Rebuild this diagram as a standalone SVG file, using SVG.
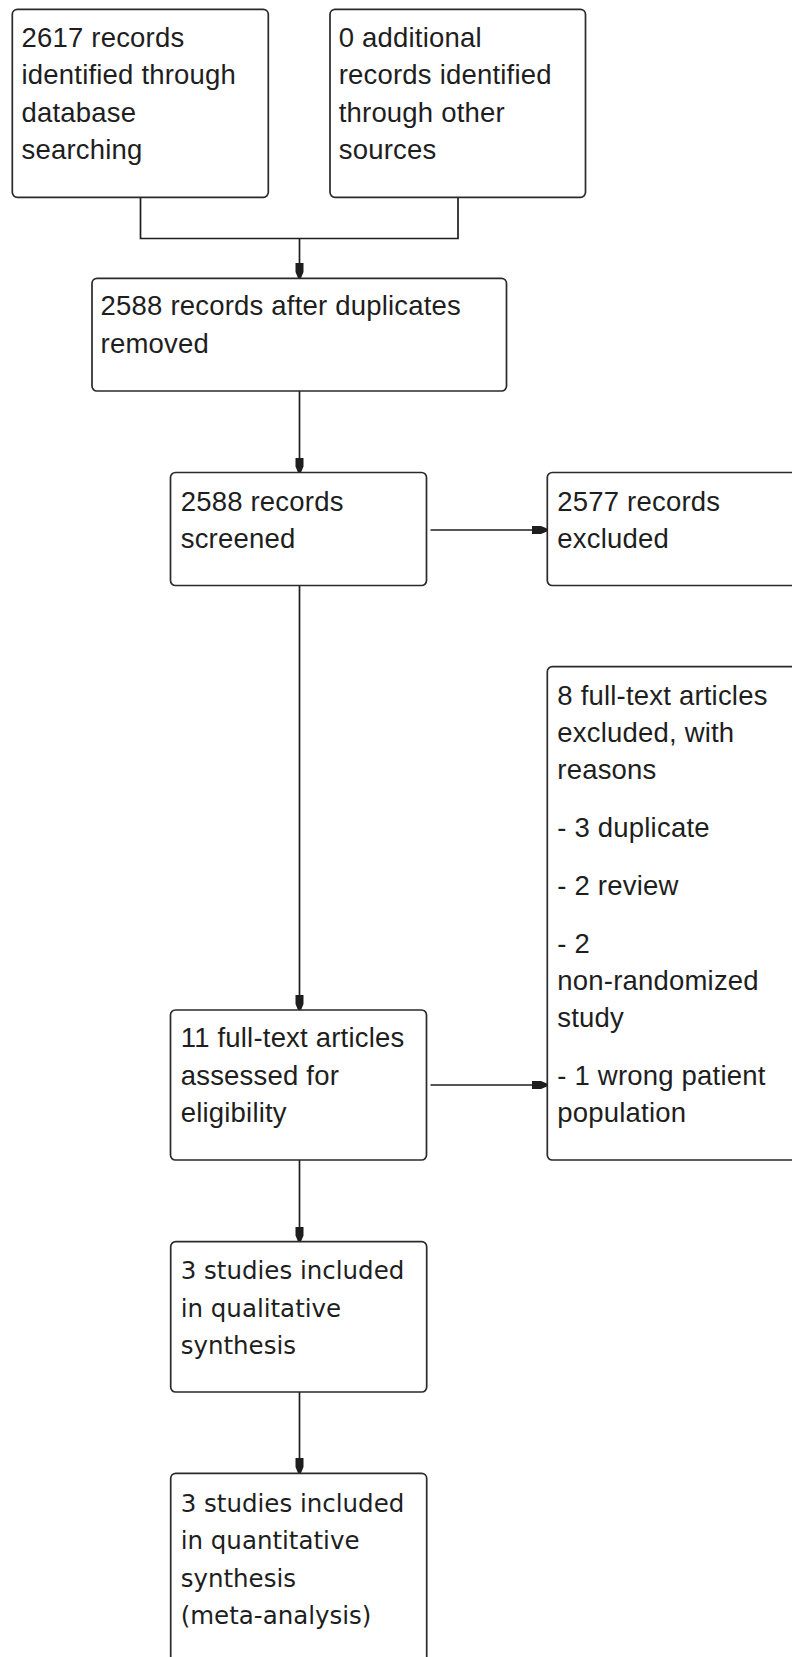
<svg xmlns="http://www.w3.org/2000/svg" width="792" height="1657" viewBox="0 0 792 1657">
<style>
.box{fill:#ffffff;stroke:#2a2a2a;stroke-width:1.7}
.t{font-family:"Liberation Sans",Arial,sans-serif;font-size:27.5px;letter-spacing:0.2px;fill:#1e1e1e}
.d{font-family:"DejaVu Sans",sans-serif;font-size:24.5px;fill:#1e1e1e}
.c{fill:none;stroke:#1e1e1e;stroke-width:1.7}
</style>
<defs>
<marker id="ah" markerUnits="userSpaceOnUse" markerWidth="15" markerHeight="9" refX="15" refY="4.5" orient="auto" viewBox="0 0 15 9">
<path d="M0,0.5 L9,0.5 L15,3 L15,6 L9,8.5 L0,8.5 Z" fill="#1e1e1e"/>
</marker>
</defs>
<rect width="792" height="1657" fill="#ffffff"/>
<g id="connectors">
<path class="c" d="M140.5,197.5 V238.5 H458 V197.5"/>
<path class="c" d="M299.5,238.5 V278" marker-end="url(#ah)"/>
<path class="c" d="M299.5,391 V472.5" marker-end="url(#ah)"/>
<path class="c" d="M430.5,530 H547" marker-end="url(#ah)"/>
<path class="c" d="M299.5,585.5 V1010" marker-end="url(#ah)"/>
<path class="c" d="M430.5,1085 H547" marker-end="url(#ah)"/>
<path class="c" d="M299.5,1160 V1241.5" marker-end="url(#ah)"/>
<path class="c" d="M299.5,1392 V1473" marker-end="url(#ah)"/>
</g>
<g id="n1">
<rect class="box" x="12.3" y="9.3" width="256" height="188" rx="5"/>
<text class="t" x="21.5"><tspan x="21.5" y="46.7">2617 records</tspan><tspan x="21.5" y="84.2">identified through</tspan><tspan x="21.5" y="121.7">database</tspan><tspan x="21.5" y="159.2">searching</tspan></text>
</g>
<g id="n2">
<rect class="box" x="330" y="9.3" width="255.5" height="188" rx="5"/>
<text class="t" x="338.7"><tspan x="338.7" y="46.7">0 additional</tspan><tspan x="338.7" y="84.2">records identified</tspan><tspan x="338.7" y="121.7">through other</tspan><tspan x="338.7" y="159.2">sources</tspan></text>
</g>
<g id="n3">
<rect class="box" x="92" y="278.3" width="414.5" height="112.7" rx="5"/>
<text class="t" x="100.6"><tspan x="100.6" y="315.3">2588 records after duplicates</tspan><tspan x="100.6" y="352.8">removed</tspan></text>
</g>
<g id="n4">
<rect class="box" x="170.5" y="472.5" width="256" height="113" rx="5"/>
<text class="t" x="180.7"><tspan x="180.7" y="511">2588 records</tspan><tspan x="180.7" y="548.3">screened</tspan></text>
</g>
<g id="n5">
<rect class="box" x="547.3" y="472.5" width="290" height="113" rx="5"/>
<text class="t" x="557.3"><tspan x="557.3" y="511">2577 records</tspan><tspan x="557.3" y="548.3">excluded</tspan></text>
</g>
<g id="n6">
<rect class="box" x="547.3" y="666.7" width="290" height="493.3" rx="5"/>
<text class="t" x="557.3"><tspan x="557.3" y="705">8 full-text articles</tspan><tspan x="557.3" y="742">excluded, with</tspan><tspan x="557.3" y="779">reasons</tspan><tspan x="557.3" y="837">- 3 duplicate</tspan><tspan x="557.3" y="895">- 2 review</tspan><tspan x="557.3" y="953">- 2</tspan><tspan x="557.3" y="990">non-randomized</tspan><tspan x="557.3" y="1027">study</tspan><tspan x="557.3" y="1085">- 1 wrong patient</tspan><tspan x="557.3" y="1122">population</tspan></text>
</g>
<g id="n7">
<rect class="box" x="170.5" y="1010" width="256" height="150" rx="5"/>
<text class="t" x="180.7"><tspan x="180.7" y="1047">11 full-text articles</tspan><tspan x="180.7" y="1084.5">assessed for</tspan><tspan x="180.7" y="1122">eligibility</tspan></text>
</g>
<g id="n8">
<rect class="box" x="170.7" y="1241.7" width="256" height="150.3" rx="5"/>
<text class="d" x="180.7"><tspan x="180.7" y="1279.3">3 studies included</tspan><tspan x="180.7" y="1316.7">in qualitative</tspan><tspan x="180.7" y="1354">synthesis</tspan></text>
</g>
<g id="n9">
<rect class="box" x="170.7" y="1473.3" width="256" height="240" rx="5"/>
<text class="d" x="180.7"><tspan x="180.7" y="1511.7">3 studies included</tspan><tspan x="180.7" y="1549">in quantitative</tspan><tspan x="180.7" y="1586.5">synthesis</tspan><tspan x="180.7" y="1623.5">(meta-analysis)</tspan></text>
</g>
</svg>
